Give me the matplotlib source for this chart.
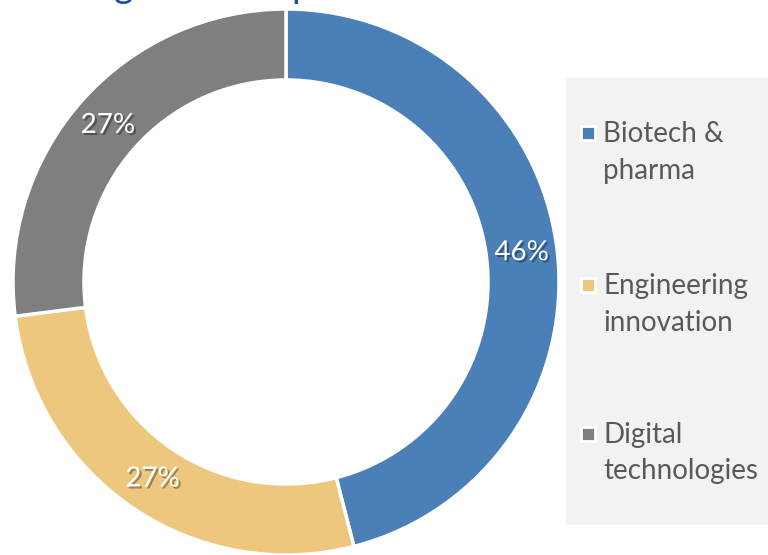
import matplotlib.pyplot as plt
import matplotlib.patheffects as pe
from matplotlib.patches import Rectangle

plt.rcParams['font.family'] = ['Lato', 'DejaVu Sans']

labels = ["Biotech &\npharma", "Engineering\ninnovation", "Digital\ntechnologies"]
shares = [46, 27, 27]
colors = ["#4A7FB8", "#EEC77E", "#7F7F7F"]
title = "Funding across top sectors"

W, H = 768, 555
fig = plt.figure(figsize=(W / 100, H / 100), dpi=100)

# legend background box
fig.add_artist(Rectangle((566 / W, 1 - 525 / H), (W - 566) / W, (525 - 78) / H,
                         transform=fig.transFigure, facecolor="#F2F2F2",
                         edgecolor="none", zorder=0))

# donut, placed by pixel: centre (286, 282), radius 273
R = 273
ax = fig.add_axes([(286 - R) / W, (H - 282 - R) / H, 2 * R / W, 2 * R / H])
wedges, _, autotexts = ax.pie(
    shares, colors=colors, startangle=90, counterclock=False, radius=1,
    autopct="%d%%", pctdistance=0.87,
    wedgeprops=dict(width=0.26, edgecolor="white", linewidth=2.5),
    textprops=dict(color="white", fontsize=20))
for t in autotexts:
    t.set_path_effects([pe.withSimplePatchShadow(offset=(1.5, -1.5),
                                                 shadow_rgbFace="black", alpha=0.35)])
ax.set_xlim(-1, 1)
ax.set_ylim(-1, 1)
ax.set_aspect("equal")
ax.axis("off")

# legend entries
rows_y = [133, 285, 434]
for lab, col, y in zip(labels, colors, rows_y):
    fig.add_artist(Rectangle((581 / W, 1 - (y + 7) / H), 14 / W, 14 / H,
                             transform=fig.transFigure, facecolor=col,
                             edgecolor="white", linewidth=2, zorder=2))
    fig.text(603 / W, 1 - (y - 12) / H, lab, fontsize=20, color="#595959",
             va="top", ha="left", linespacing=1.5)

# title, mostly cut off above the image
fig.text(0 / W, 1 + 3 / H, title, fontsize=27, color="#1F4E9E",
         va="baseline", ha="left")

fig.savefig("out.png", dpi=100)
